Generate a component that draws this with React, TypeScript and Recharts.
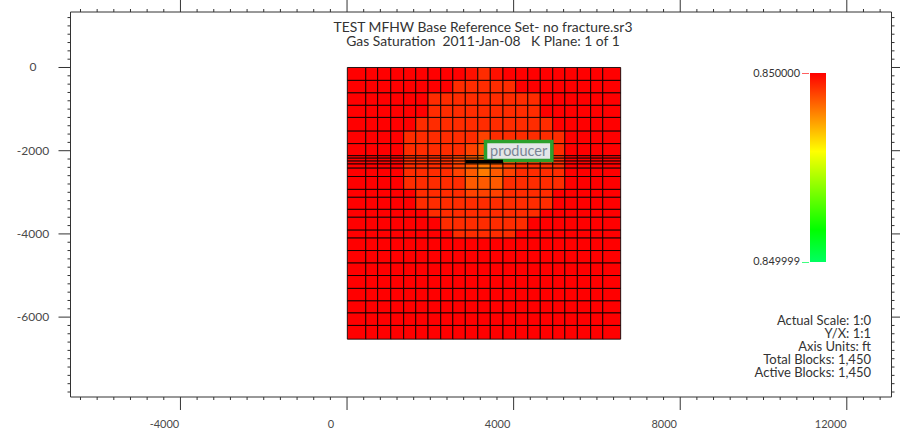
import { ScatterChart, Scatter, XAxis, YAxis, ReferenceArea } from "recharts";

const FONT = "Lato, sans-serif";
const AXIS_STROKE = "#333";
const TEXT_FILL = "#4a4a4a";

const xDomain = [-6640, 13073];
const yDomain = [-7920, 1334];
const xMajorTicks = [-4000, 0, 4000, 8000, 12000];
const yMajorTicks = [0, -2000, -4000, -6000];
const xMinorStep = 400;
const yMinorStep = 200;

// block edges in ft
const xEdges = [
  7, 450, 735, 1050, 1360, 1650, 1945, 2250, 2540, 2840, 3140, 3440, 3745, 4050, 4340, 4640, 4940,
  5230, 5530, 5850, 6140, 6570,
];
const yEdges = [
  0, -310, -610, -910, -1200, -1530, -1830, -2120, -2180, -2250, -2320, -2420, -2620, -2930, -3120,
  -3410, -3600, -3910, -4100, -4400, -4700, -5000, -5310, -5610, -5900, -6200, -6530,
];

const levelColors = ["#ff0000", "#ff1000", "#ff2c00", "#ff4200", "#ff5a00", "#ff7a00"];

const cellLevels = [
  [0, 0, 0, 0, 0, 0, 0, 0, 0, 1, 2, 1, 0, 0, 0, 0, 0, 0, 0, 0, 0],
  [0, 0, 0, 0, 0, 0, 0, 0, 2, 2, 2, 2, 2, 0, 0, 0, 0, 0, 0, 0, 0],
  [0, 0, 0, 0, 0, 0, 2, 2, 2, 2, 2, 2, 2, 2, 2, 0, 0, 0, 0, 0, 0],
  [0, 0, 0, 0, 0, 0, 2, 2, 2, 2, 2, 2, 2, 2, 2, 0, 0, 0, 0, 0, 0],
  [0, 0, 0, 0, 0, 2, 2, 2, 2, 2, 2, 2, 2, 2, 2, 2, 0, 0, 0, 0, 0],
  [0, 0, 0, 0, 2, 2, 2, 2, 2, 2, 3, 2, 2, 2, 2, 2, 2, 0, 0, 0, 0],
  [0, 0, 0, 0, 2, 2, 2, 2, 2, 3, 4, 3, 2, 2, 2, 2, 2, 0, 0, 0, 0],
  [0, 0, 0, 0, 2, 2, 2, 2, 3, 4, 5, 4, 3, 2, 2, 2, 2, 0, 0, 0, 0],
  [0, 0, 0, 0, 2, 2, 2, 2, 3, 4, 5, 4, 3, 2, 2, 2, 2, 0, 0, 0, 0],
  [0, 0, 0, 0, 2, 2, 2, 2, 3, 4, 5, 4, 3, 2, 2, 2, 2, 0, 0, 0, 0],
  [0, 0, 0, 0, 2, 2, 2, 2, 3, 4, 5, 4, 3, 2, 2, 2, 2, 0, 0, 0, 0],
  [0, 0, 0, 0, 2, 2, 2, 2, 3, 4, 5, 4, 3, 2, 2, 2, 2, 0, 0, 0, 0],
  [0, 0, 0, 0, 2, 2, 2, 2, 2, 4, 4, 4, 2, 2, 2, 2, 2, 0, 0, 0, 0],
  [0, 0, 0, 0, 0, 2, 2, 2, 2, 3, 3, 3, 2, 2, 2, 2, 0, 0, 0, 0, 0],
  [0, 0, 0, 0, 0, 2, 2, 2, 2, 2, 2, 2, 2, 2, 2, 2, 0, 0, 0, 0, 0],
  [0, 0, 0, 0, 0, 0, 2, 2, 2, 2, 2, 2, 2, 2, 2, 0, 0, 0, 0, 0, 0],
  [0, 0, 0, 0, 0, 0, 0, 2, 2, 2, 2, 2, 2, 2, 0, 0, 0, 0, 0, 0, 0],
  [0, 0, 0, 0, 0, 0, 0, 0, 2, 2, 2, 2, 2, 0, 0, 0, 0, 0, 0, 0, 0],
  [0, 0, 0, 0, 0, 0, 0, 0, 0, 0, 0, 0, 0, 0, 0, 0, 0, 0, 0, 0, 0],
  [0, 0, 0, 0, 0, 0, 0, 0, 0, 0, 0, 0, 0, 0, 0, 0, 0, 0, 0, 0, 0],
  [0, 0, 0, 0, 0, 0, 0, 0, 0, 0, 0, 0, 0, 0, 0, 0, 0, 0, 0, 0, 0],
  [0, 0, 0, 0, 0, 0, 0, 0, 0, 0, 0, 0, 0, 0, 0, 0, 0, 0, 0, 0, 0],
  [0, 0, 0, 0, 0, 0, 0, 0, 0, 0, 0, 0, 0, 0, 0, 0, 0, 0, 0, 0, 0],
  [0, 0, 0, 0, 0, 0, 0, 0, 0, 0, 0, 0, 0, 0, 0, 0, 0, 0, 0, 0, 0],
  [0, 0, 0, 0, 0, 0, 0, 0, 0, 0, 0, 0, 0, 0, 0, 0, 0, 0, 0, 0, 0],
  [0, 0, 0, 0, 0, 0, 0, 0, 0, 0, 0, 0, 0, 0, 0, 0, 0, 0, 0, 0, 0],
];

const wellTrace = [
  { x: 2845, y: -2260 },
  { x: 3745, y: -2260 },
];
const producerBox = { x1: 3325, x2: 4917, y1: -1779, y2: -2236 };

const titleLines = [
  "TEST MFHW Base Reference Set- no fracture.sr3",
  "Gas Saturation  2011-Jan-08   K Plane: 1 of 1",
];
const infoLines = [
  "Actual Scale: 1:0",
  "Y/X: 1:1",
  "Axis Units: ft",
  "Total Blocks: 1,450",
  "Active Blocks: 1,450",
];
const scaleMax = "0.850000";
const scaleMin = "0.849999";

function minorTicks(domain: number[], step: number) {
  const out: number[] = [];
  for (let v = Math.ceil(domain[0] / step) * step; v <= domain[1]; v += step) out.push(v);
  return out;
}

const xTicks = minorTicks(xDomain, xMinorStep);
const yTicks = minorTicks(yDomain, yMinorStep);

function xTick(side: "bottom" | "top") {
  return ({ x, y, payload }: any) => {
    const major = xMajorTicks.includes(payload.value);
    const len = major ? 13 : 3;
    const dir = side === "bottom" ? 1 : -1;
    return (
      <g>
        <line x1={x} x2={x} y1={y} y2={y + dir * len} stroke={AXIS_STROKE} />
        {major && side === "bottom" && (
          <text x={x - 16} y={y + 31} textAnchor="middle" fontSize={11} fill={TEXT_FILL} fontFamily={FONT}>
            {payload.value}
          </text>
        )}
      </g>
    );
  };
}

function yTick(side: "left" | "right") {
  return ({ x, y, payload }: any) => {
    const major = yMajorTicks.includes(payload.value);
    const dir = side === "left" ? -1 : 1;
    const len = major ? (side === "left" ? 12 : 9) : 3;
    return (
      <g>
        <line x1={x} x2={x + dir * len} y1={y} y2={y} stroke={AXIS_STROKE} />
        {major && side === "left" && (
          <text x={33} y={y + 4} textAnchor="middle" fontSize={12} fill={TEXT_FILL} fontFamily={FONT}>
            {payload.value}
          </text>
        )}
      </g>
    );
  };
}

export default function App() {
  return (
    <div style={{ position: "absolute", left: 0, top: 0, width: 900, height: 434, background: "#fff", fontFamily: FONT }}>
      <ScatterChart width={900} height={434} margin={{ top: 0, right: 0, bottom: 0, left: 0 }}>
        <XAxis
          type="number"
          dataKey="x"
          domain={xDomain}
          ticks={xTicks}
          interval={0}
          height={37}
          tickSize={0}
          tickMargin={0}
          tickLine={false}
          stroke={AXIS_STROKE}
          tick={xTick("bottom")}
          allowDataOverflow
        />
        <XAxis
          xAxisId="top"
          orientation="top"
          type="number"
          dataKey="x"
          domain={xDomain}
          ticks={xTicks}
          interval={0}
          height={12}
          tickSize={0}
          tickMargin={0}
          tickLine={false}
          stroke={AXIS_STROKE}
          tick={xTick("top")}
          allowDataOverflow
        />
        <YAxis
          type="number"
          dataKey="y"
          domain={yDomain}
          ticks={yTicks}
          interval={0}
          width={70.5}
          tickSize={0}
          tickMargin={0}
          tickLine={false}
          stroke={AXIS_STROKE}
          tick={yTick("left")}
          allowDataOverflow
        />
        <YAxis
          yAxisId="right"
          orientation="right"
          type="number"
          dataKey="y"
          domain={yDomain}
          ticks={yTicks}
          interval={0}
          width={8.5}
          tickSize={0}
          tickMargin={0}
          tickLine={false}
          stroke={AXIS_STROKE}
          tick={yTick("right")}
          allowDataOverflow
        />
        {cellLevels.map((row, r) =>
          row.map((level, c) => (
            <ReferenceArea
              key={`${r}-${c}`}
              x1={xEdges[c]}
              x2={xEdges[c + 1]}
              y1={yEdges[r]}
              y2={yEdges[r + 1]}
              fill={levelColors[level]}
              fillOpacity={1}
              stroke="#000"
              strokeOpacity={0.85}
              strokeWidth={1}
            />
          ))
        )}
        <Scatter
          data={wellTrace}
          isAnimationActive={false}
          line={{ stroke: "#000", strokeWidth: 3.5 }}
          shape={() => <g />}
        />
        <ReferenceArea
          {...producerBox}
          fill="#e4e6e8"
          fillOpacity={1}
          stroke="#2ca02c"
          strokeWidth={3.5}
          label={{ value: "producer", position: "center", fontSize: 14.5, fill: "#7a8494", fontFamily: FONT }}
        />
      </ScatterChart>

      <div style={{ position: "absolute", left: 283, width: 400, top: 19.5, textAlign: "center", fontSize: 13.85, lineHeight: "14px", color: "#333", whiteSpace: "pre" }}>
        {titleLines.map((t) => (
          <div key={t}>{t}</div>
        ))}
      </div>

      <div style={{ position: "absolute", left: 671, width: 200, top: 313.5, textAlign: "right", fontSize: 13, lineHeight: "13.2px", color: "#333" }}>
        {infoLines.map((t) => (
          <div key={t}>{t}</div>
        ))}
      </div>

      <div
        style={{
          position: "absolute",
          left: 810,
          top: 73,
          width: 16,
          height: 189,
          background:
            "linear-gradient(to bottom, #ff0000 0%, #ffff00 41.5%, #00ff00 83%, #00ff60 100%)",
        }}
      />
      <div style={{ position: "absolute", left: 802, top: 73, width: 7, height: 1, background: "#ff6060" }} />
      <div style={{ position: "absolute", left: 802, top: 262, width: 7, height: 1, background: "#40ff80" }} />
      <div style={{ position: "absolute", left: 700, width: 100, top: 66, textAlign: "right", fontSize: 10.9, lineHeight: "14px", color: "#333" }}>
        {scaleMax}
      </div>
      <div style={{ position: "absolute", left: 700, width: 100, top: 254, textAlign: "right", fontSize: 10.9, lineHeight: "14px", color: "#333" }}>
        {scaleMin}
      </div>
    </div>
  );
}
